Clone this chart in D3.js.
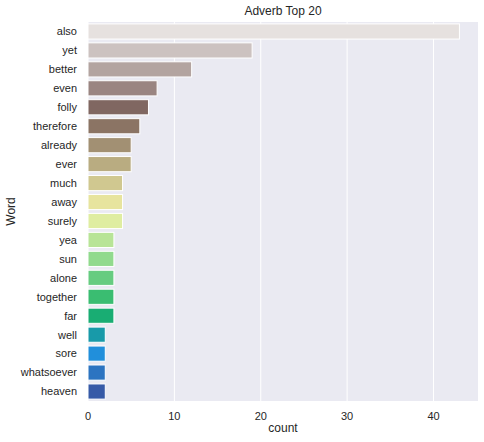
<!DOCTYPE html>
<html>
<head>
<meta charset="utf-8">
<script src="https://cdn.jsdelivr.net/npm/d3@7"></script>
<style>
  body { margin: 0; background: #fff; }
  text { font-family: "Liberation Sans", Arial, sans-serif; fill: #262626; }
</style>
</head>
<body>
<script>

var words = ["also", "yet", "better", "even", "folly", "therefore", "already", "ever",
             "much", "away", "surely", "yea", "sun", "alone", "together", "far",
             "well", "sore", "whatsoever", "heaven"];
var counts = [43, 19, 12, 8, 7, 6, 5, 5, 4, 4, 4, 3, 3, 3, 3, 3, 2, 2, 2, 2];
var xTicks = [0, 10, 20, 30, 40];

var width = 484,
    height = 442,
    margin = {top: 22, right: 6, bottom: 41, left: 88};

// terrain colormap stops (matplotlib), reversed palette, desaturated like seaborn
var terrainStops = [
  [0.00, [0.2, 0.2, 0.6]],
  [0.15, [0.0, 0.6, 1.0]],
  [0.25, [0.0, 0.8, 0.4]],
  [0.50, [1.0, 1.0, 0.6]],
  [0.75, [0.5, 0.36, 0.33]],
  [1.00, [1.0, 1.0, 1.0]]
];

function terrain(t) {
  for (var i = 1; i < terrainStops.length; i++) {
    if (t <= terrainStops[i][0]) {
      var a = terrainStops[i - 1], b = terrainStops[i];
      var f = (t - a[0]) / (b[0] - a[0]);
      return d3.rgb.apply(null, a[1].map(function(v, k) { return 255 * (v + (b[1][k] - v) * f); }));
    }
  }
  return d3.rgb(255, 255, 255);
}

function barColor(i) {
  var c = d3.hsl(terrain(1 - (i + 1) / (words.length + 1)));
  c.s *= 0.75;
  return c.formatHex();
}

var svg = d3.select("body").append("svg")
    .attr("width", width)
    .attr("height", height);

var g = svg.append("g")
    .attr("transform", "translate(" + margin.left + "," + margin.top + ")");

var w = width - margin.left - margin.right,
    h = height - margin.top - margin.bottom;

var x = d3.scaleLinear()
    .domain([0, d3.max(counts) * 1.05])
    .range([0, w]);

var y = d3.scaleBand()
    .domain(words)
    .range([0, h])
    .paddingInner(0.2)
    .paddingOuter(0.1);

// background
g.append("rect")
    .attr("width", w)
    .attr("height", h)
    .attr("fill", "#eaeaf2");

// grid
g.selectAll(".grid")
    .data(xTicks)
  .enter().append("line")
    .attr("x1", function(d) { return x(d); })
    .attr("x2", function(d) { return x(d); })
    .attr("y1", 0)
    .attr("y2", h)
    .attr("stroke", "#fff")
    .attr("stroke-width", 1);

// bars
g.selectAll(".bar")
    .data(words)
  .enter().append("rect")
    .attr("class", "bar")
    .attr("x", x(0))
    .attr("y", function(d) { return y(d); })
    .attr("width", function(d, i) { return x(counts[i]) - x(0); })
    .attr("height", y.bandwidth())
    .attr("fill", function(d, i) { return barColor(i); })
    .attr("stroke", "#fff")
    .attr("stroke-width", 1);

// y tick labels
g.selectAll(".ylab")
    .data(words)
  .enter().append("text")
    .attr("x", -11)
    .attr("y", function(d) { return y(d) + y.bandwidth() / 2; })
    .attr("dy", "0.35em")
    .attr("text-anchor", "end")
    .attr("font-size", 11)
    .text(function(d) { return d; });

// x tick labels
g.selectAll(".xlab")
    .data(xTicks)
  .enter().append("text")
    .attr("x", function(d) { return x(d); })
    .attr("y", h + 19)
    .attr("text-anchor", "middle")
    .attr("font-size", 11)
    .text(function(d) { return d; });

// axis labels
svg.append("text")
    .attr("x", margin.left + w / 2)
    .attr("y", 432)
    .attr("text-anchor", "middle")
    .attr("font-size", 12)
    .text("count");

svg.append("text")
    .attr("transform", "translate(14.5," + (margin.top + h / 2) + ") rotate(-90)")
    .attr("text-anchor", "middle")
    .attr("font-size", 12)
    .text("Word");

svg.append("text")
    .attr("x", margin.left + w / 2)
    .attr("y", 15)
    .attr("text-anchor", "middle")
    .attr("font-size", 12)
    .text("Adverb Top 20");

</script>
</body>
</html>
